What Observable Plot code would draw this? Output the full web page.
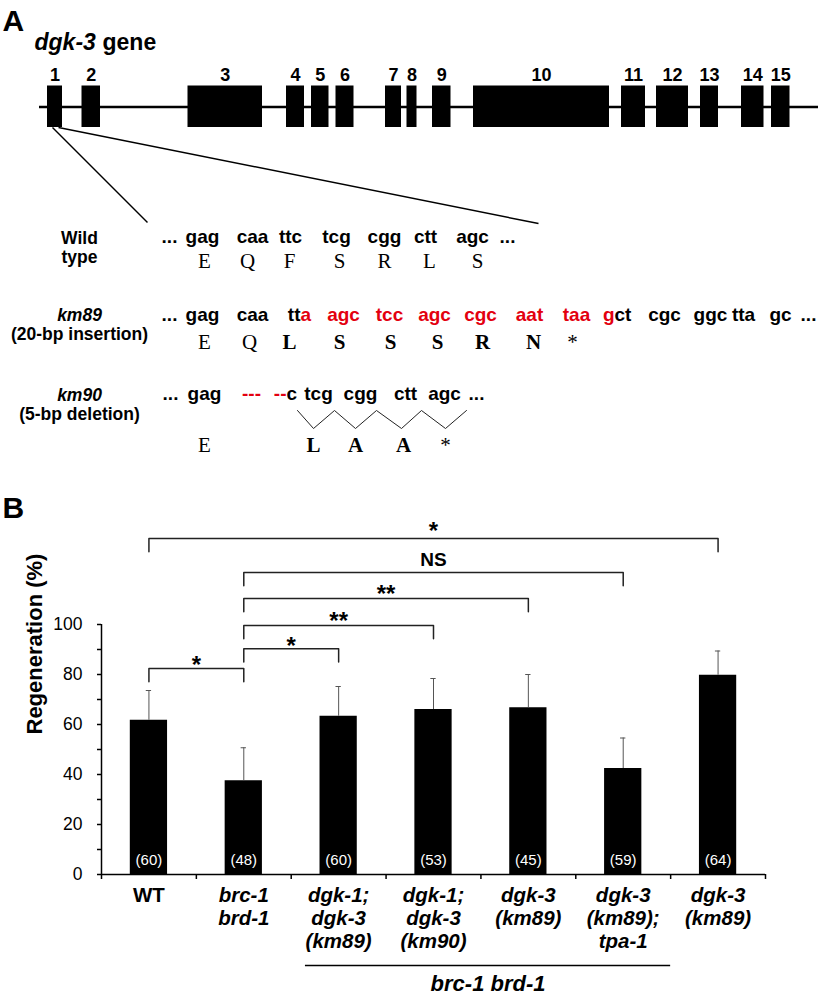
<!DOCTYPE html>
<html>
<head>
<meta charset="utf-8">
<script src="https://cdn.jsdelivr.net/npm/d3@7"></script>
<script src="https://cdn.jsdelivr.net/npm/@observablehq/plot@0.6"></script>
<style>
  html, body { margin: 0; padding: 0; background: #fff; }
  body { width: 828px; height: 997px; overflow: hidden; }
  svg { display: block; }
</style>
</head>
<body>
<div id="panelA"></div>
<div id="panelB"></div>
<script>
// ---------------- Panel A data ----------------
const exonNumbers = [1, 2, 3, 4, 5, 6, 7, 8, 9, 10, 11, 12, 13, 14, 15];
const exonStarts  = [47, 81.5, 187.5, 286, 311, 335.5, 385, 406.5, 432, 473, 621, 656, 700, 741, 771];
const exonEnds    = [62, 100, 262, 304, 328.5, 353.5, 401, 416.5, 450.5, 609, 645, 688, 718, 763.5, 789.5];
const geneSpan    = [39, 818];

const rowLabels      = ["Wild", "type", "km89", "(20-bp insertion)", "km90", "(5-bp deletion)"];
const rowLabelItalic = [false, false, true, false, true, false];

// codon tokens: text, column, red?, anchor
const wtCodons   = ["...", "gag", "caa", "ttc", "tcg", "cgg", "ctt", "agc", "..."];
const wtCodonCol = [169, 202, 252, 290, 336, 384, 425, 472, 507];
const wtAA       = ["E", "Q", "F", "S", "R", "L", "S"];
const wtAACol    = [204, 247, 289, 339, 384, 429, 477];

const km89Codons   = ["...", "gag", "caa", "tt", "a", "agc", "tcc", "agc", "cgc", "aat", "taa", "g", "ct", "cgc", "ggc", "tta", "gc", "..."];
const km89CodonCol = [169, 202, 252, 300, 300, 343, 389, 434, 480, 529, 576, 614, 614, 664, 710, 743, 780, 808];
const km89Red      = [0, 0, 0, 0, 1, 1, 1, 1, 1, 1, 1, 1, 0, 0, 0, 0, 0, 0];
const km89Anchor   = ["middle", "middle", "middle", "end", "start", "middle", "middle", "middle", "middle", "middle", "middle", "end", "start", "middle", "middle", "middle", "middle", "middle"];
const km89AA       = ["E", "Q", "L", "S", "S", "S", "R", "N", "*"];
const km89AACol    = [204, 249, 289, 339, 390, 437, 482, 533, 572];
const km89AABold   = [0, 0, 1, 1, 1, 1, 1, 1, 0];

const km90Codons   = ["...", "gag", "---", "--", "c", "tcg", "cgg", "ctt", "agc", "..."];
const km90CodonCol = [170, 204, 251, 286, 286, 318, 360, 405, 444, 476];
const km90Red      = [0, 0, 1, 1, 0, 0, 0, 0, 0, 0];
const km90Anchor   = ["middle", "middle", "middle", "end", "start", "middle", "middle", "middle", "middle", "middle"];
const km90AA       = ["E", "L", "A", "A", "*"];
const km90AACol    = [204, 313, 355, 403, 445];
const km90AABold   = [0, 1, 1, 1, 0];
const frameshiftCol = [297, 313, 334, 355, 376, 401, 421, 445, 466];

// ---------------- Panel B data ----------------
const categories   = ["WT", "brc-1 brd-1", "dgk-1; dgk-3(km89)", "dgk-1; dgk-3(km90)", "dgk-3(km89)", "dgk-3(km89); tpa-1", "dgk-3(km89) only"];
const catLabels    = ["WT", "brc-1\nbrd-1", "dgk-1;\ndgk-3\n(km89)", "dgk-1;\ndgk-3\n(km90)", "dgk-3\n(km89)", "dgk-3\n(km89);\ntpa-1", "dgk-3\n(km89)"];
const regeneration = [61.7, 37.5, 63.3, 66.0, 66.7, 42.4, 79.7];
const errorTop     = [73.6, 50.7, 75.2, 78.4, 80.0, 54.6, 89.4];
const sampleN      = ["(60)", "(48)", "(60)", "(53)", "(45)", "(59)", "(64)"];
const yTicks       = [0, 20, 40, 60, 80, 100];
const yMinorTicks  = [10, 30, 50, 70, 90];

const bracketFrom   = [0, 1, 1, 1, 1, 0];
const bracketTo     = [1, 2, 3, 4, 5, 6];
const bracketTop    = [82.4, 90.3, 99.6, 110.4, 120.8, 134.4];
const bracketLabel  = ["*", "*", "**", "**", "NS", "*"];
const bracketLabelY = [80.5, 88.1, 98.1, 109.1, 123.3, 134.1];

const groupLabel = "brc-1 brd-1";
const groupSpan  = [2.15, 6.0];

// ---------------- helpers ----------------
const SANS = "'Liberation Sans', Arial, Helvetica, sans-serif";
const SERIF = "'Liberation Serif', 'Times New Roman', serif";
const RED = "#e3000f";

function tokens(texts, cols, reds, anchors) {
  return texts.map((t, i) => ({text: t, x: cols[i], color: reds && reds[i] ? RED : "black", anchor: anchors ? anchors[i] : "middle"}));
}
function tokenMarks(toks, y, opts) {
  return ["start", "middle", "end"].map(a =>
    Plot.text(toks.filter(t => t.anchor === a), {x: "x", y, text: "text", fill: "color", textAnchor: a, lineAnchor: "bottom", ...opts}));
}
function aaMarks(texts, cols, bolds, y) {
  const t = texts.map((s, i) => ({text: s, x: cols[i], bold: bolds ? bolds[i] : 0}));
  return [0, 1].map(b => Plot.text(t.filter(d => d.bold === b), {x: "x", y, text: "text", lineAnchor: "bottom",
    fontFamily: SERIF, fontSize: 21, fontWeight: b ? "bold" : "normal"}));
}

// ---------------- Panel A ----------------
const exons = exonNumbers.map((n, i) => ({n, x1: exonStarts[i], x2: exonEnds[i]}));
const labelRows = rowLabels.map((t, i) => ({text: t, italic: rowLabelItalic[i], y: [243, 262, 320, 339, 400, 419][i]}));
const zig = frameshiftCol.map((x, i) => ({x, y: i % 2 === 0 ? 410 : 428}));
const codonStyle = {fontSize: 19, fontWeight: "bold"};

const A = Plot.plot({
  width: 828, height: 470, margin: 0,
  style: {fontFamily: SANS, color: "black", background: "white"},
  x: {domain: [0, 828], range: [0, 828], axis: null},
  y: {domain: [0, 470], range: [0, 470], axis: null},
  color: {type: "identity"},
  marks: [
    Plot.text(["A"], {x: 2, y: 30, text: d => d, textAnchor: "start", lineAnchor: "bottom", fontSize: 30, fontWeight: "bold"}),
    Plot.text(["dgk-3"], {x: 34, y: 49, text: d => d, textAnchor: "start", lineAnchor: "bottom", fontSize: 23, fontWeight: "bold", fontStyle: "italic"}),
    Plot.text(["gene"], {x: 102, y: 49, text: d => d, textAnchor: "start", lineAnchor: "bottom", fontSize: 23, fontWeight: "bold"}),
    Plot.ruleY([106.5], {x1: geneSpan[0], x2: geneSpan[1], strokeWidth: 2.5}),
    Plot.rect(exons, {x1: "x1", x2: "x2", y1: 85.5, y2: 127, fill: "black"}),
    Plot.text(exons, {x: d => (d.x1 + d.x2) / 2, y: 80, text: "n", lineAnchor: "bottom", fontSize: 18, fontWeight: "bold"}),
    Plot.link([{x1: 52, y1: 127, x2: 147, y2: 222}, {x1: 58, y1: 127, x2: 538, y2: 223}],
      {x1: "x1", y1: "y1", x2: "x2", y2: "y2", strokeWidth: 1.5}),
    Plot.text(labelRows.filter(d => !d.italic), {x: 79, y: "y", text: "text", lineAnchor: "bottom", fontSize: 17.5, fontWeight: "bold"}),
    Plot.text(labelRows.filter(d => d.italic), {x: 79, y: "y", text: "text", lineAnchor: "bottom", fontSize: 17.5, fontWeight: "bold", fontStyle: "italic"}),
    ...tokenMarks(tokens(wtCodons, wtCodonCol), 242, codonStyle),
    ...aaMarks(wtAA, wtAACol, null, 267),
    ...tokenMarks(tokens(km89Codons, km89CodonCol, km89Red, km89Anchor), 320, codonStyle),
    ...aaMarks(km89AA, km89AACol, km89AABold, 348),
    ...tokenMarks(tokens(km90Codons, km90CodonCol, km90Red, km90Anchor), 399, codonStyle),
    Plot.line(zig, {x: "x", y: "y", strokeWidth: 1, stroke: "#222"}),
    ...aaMarks(km90AA, km90AACol, km90AABold, 451)
  ]
});
document.getElementById("panelA").append(A);

// ---------------- Panel B ----------------
const rows = categories.map((c, i) => ({i, c, value: regeneration[i], err: errorTop[i], n: sampleN[i], label: catLabels[i]}));
const brackets = bracketFrom.map((f, k) => ({k, from: f, to: bracketTo[k], top: bracketTop[k], label: bracketLabel[k], ly: bracketLabelY[k]}));
const bracketPts = brackets.flatMap(b => [
  {k: b.k, x: b.from + 0.5, y: b.top - 5.3},
  {k: b.k, x: b.from + 0.5, y: b.top},
  {k: b.k, x: b.to + 0.5, y: b.top},
  {k: b.k, x: b.to + 0.5, y: b.top - 5.3}
]);
const n = categories.length;
const catStyle = {lineAnchor: "top", lineHeight: 1.12, fontSize: 20.5, fontWeight: "bold"};

const B = Plot.plot({
  width: 828, height: 527,
  marginLeft: 101, marginRight: 63, marginTop: 154, marginBottom: 123,
  style: {fontFamily: SANS, color: "black", background: "white"},
  x: {domain: [0, n], axis: null},
  y: {domain: [0, 100], axis: null},
  marks: [
    Plot.text(["B"], {frameAnchor: "top-left", dx: -99, dy: -128, text: d => d, lineAnchor: "top", textAnchor: "start", fontSize: 30, fontWeight: "bold"}),
    Plot.rectY(rows, {x1: d => d.i, x2: d => d.i + 1, y: "value", insetLeft: 28.8, insetRight: 28.8, fill: "black"}),
    Plot.ruleX(rows, {x: d => d.i + 0.5, y1: "value", y2: "err", stroke: "#555", strokeWidth: 1}),
    Plot.ruleY(rows, {y: "err", x1: d => d.i + 0.5 - 0.028, x2: d => d.i + 0.5 + 0.028, stroke: "#555", strokeWidth: 1}),
    Plot.text(rows, {x: d => d.i + 0.5, y: 0, dy: -14, text: "n", fill: "white", fontSize: 15}),
    Plot.axisY({ticks: yTicks, tickSize: 4, tickPadding: 15, fontSize: 17.5, label: null, strokeWidth: 1.5}),
    Plot.axisY({ticks: yMinorTicks, tickSize: 4, tickFormat: () => "", label: null, strokeWidth: 1.5}),
    Plot.ruleX([0], {y1: 0, y2: 100, strokeWidth: 1.5}),
    Plot.ruleY([0], {x1: 0, x2: n, strokeWidth: 1.5}),
    Plot.ruleX(d3.range(n + 1), {y1: 0, y2: -2, strokeWidth: 1.5}),
    Plot.text(rows.filter(d => d.i === 0), {x: d => d.i + 0.5, y: 0, dy: 11, text: "label", ...catStyle}),
    Plot.text(rows.filter(d => d.i > 0), {x: d => d.i + 0.5, y: 0, dy: 11, text: "label", ...catStyle, fontStyle: "italic"}),
    Plot.ruleY([-36.4], {x1: groupSpan[0], x2: groupSpan[1], strokeWidth: 1.5}),
    Plot.text([groupLabel], {x: (groupSpan[0] + groupSpan[1]) / 2, y: -46.4, text: d => d, lineAnchor: "bottom", fontSize: 22, fontWeight: "bold", fontStyle: "italic"}),
    Plot.text(["Regeneration (%)"], {frameAnchor: "left", rotate: -90, dx: -67, dy: -15, text: d => d, fontSize: 22, fontWeight: "bold"}),
    Plot.line(bracketPts, {x: "x", y: "y", z: "k", stroke: "#222", strokeWidth: 1.5}),
    Plot.text(brackets.filter(b => b.label !== "NS"), {x: b => (b.from + b.to) / 2 + 0.5, y: "ly", text: "label", lineAnchor: "bottom", fontSize: 24, fontWeight: "bold"}),
    Plot.text(brackets.filter(b => b.label === "NS"), {x: b => (b.from + b.to) / 2 + 0.5, y: "ly", text: "label", lineAnchor: "bottom", fontSize: 19, fontWeight: "bold"})
  ]
});
document.getElementById("panelB").append(B);
</script>
</body>
</html>
